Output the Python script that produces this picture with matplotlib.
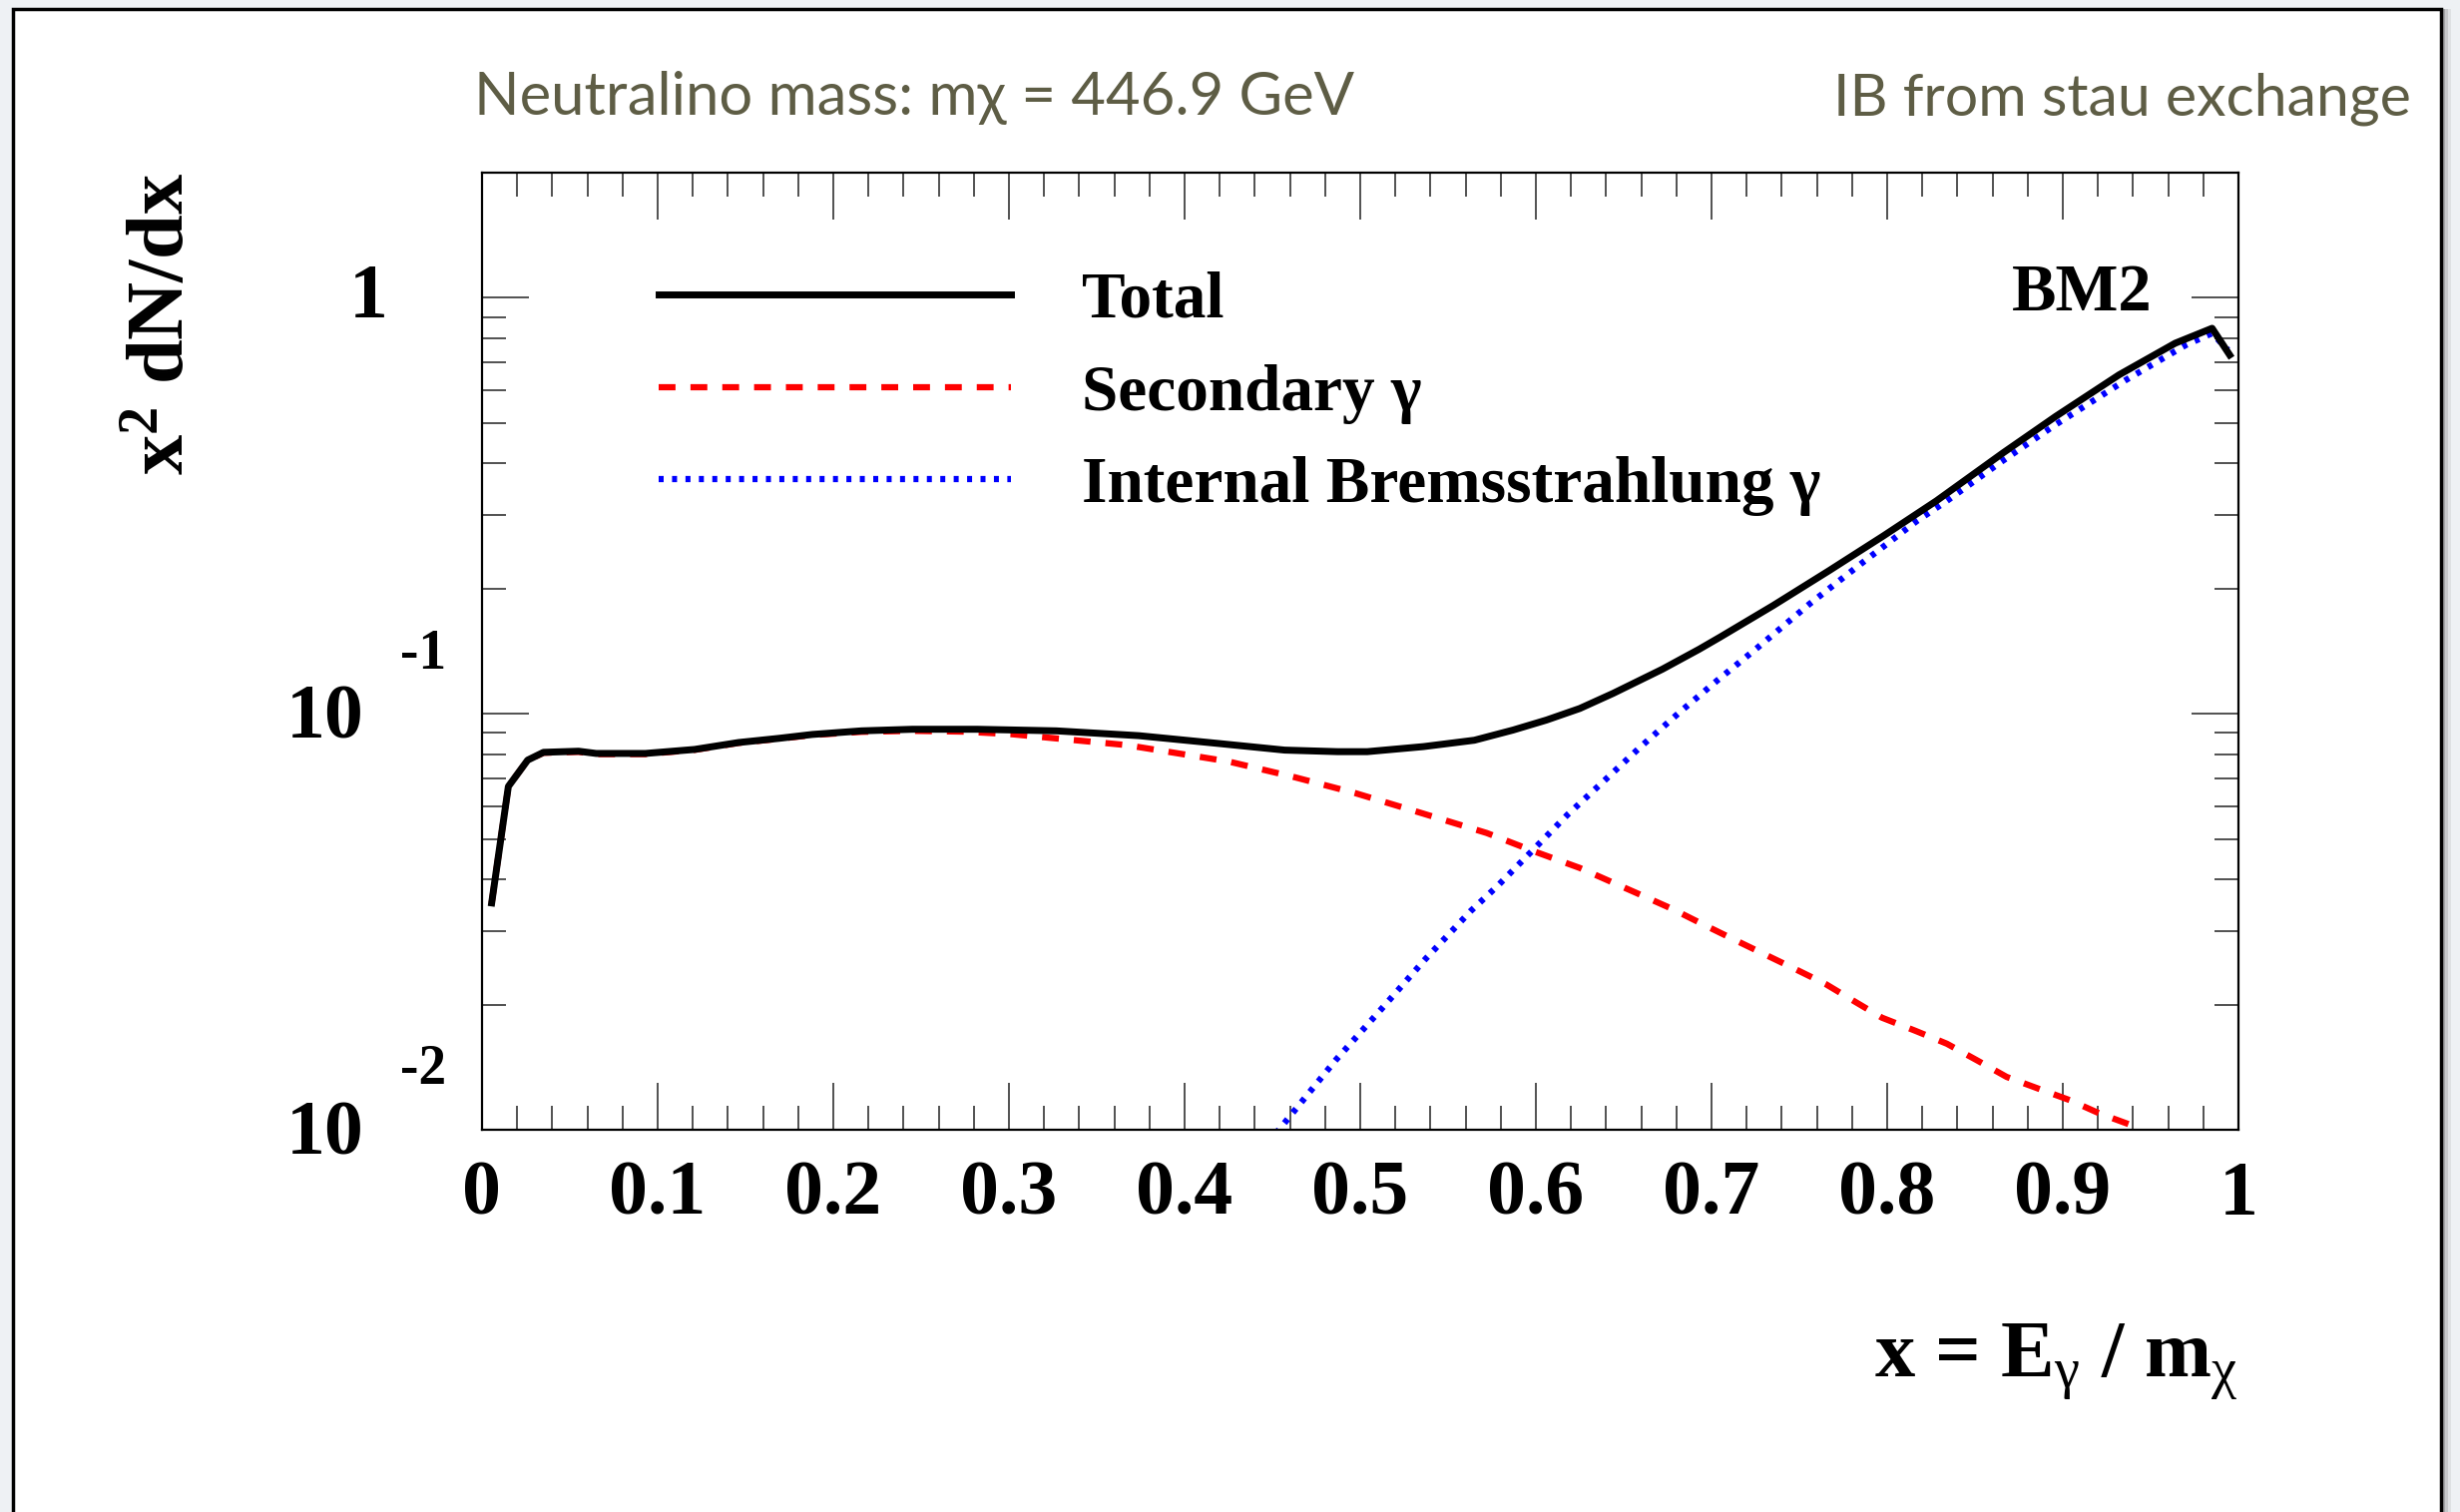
import numpy as np
import matplotlib
matplotlib.use("Agg")
import matplotlib.pyplot as plt
from matplotlib.patches import Rectangle
from matplotlib.ticker import MultipleLocator, LogLocator, NullFormatter

plt.rcParams['mathtext.fontset'] = 'custom'
plt.rcParams['mathtext.rm'] = 'Liberation Serif'
plt.rcParams['mathtext.bf'] = 'Liberation Serif:bold'
plt.rcParams['mathtext.default'] = 'rm'

# data: x = E_gamma / m_chi, y = x^2 dN/dx
x_total = [0.0055, 0.015, 0.026, 0.035, 0.055, 0.065, 0.093, 0.121, 0.146, 0.169,
           0.188, 0.216, 0.245, 0.282, 0.327, 0.374, 0.420, 0.457, 0.487, 0.504,
           0.536, 0.565, 0.587, 0.606, 0.625, 0.644, 0.672, 0.693, 0.705, 0.735,
           0.767, 0.798, 0.828, 0.866, 0.896, 0.932, 0.964, 0.985, 0.995]
y_total = [0.0351, 0.0669, 0.0774, 0.0808, 0.0813, 0.0803, 0.0803, 0.0821, 0.0853, 0.0873,
           0.0892, 0.0910, 0.0918, 0.0918, 0.0910, 0.0886, 0.0848, 0.0818, 0.0811, 0.0811,
           0.0834, 0.0864, 0.0914, 0.0966, 0.103, 0.112, 0.128, 0.143, 0.153, 0.182,
           0.221, 0.268, 0.325, 0.424, 0.519, 0.653, 0.778, 0.845, 0.729]

x_sec = [0.0055, 0.015, 0.026, 0.035, 0.055, 0.065, 0.093, 0.121, 0.146, 0.169,
         0.188, 0.216, 0.245, 0.275, 0.302, 0.367, 0.425, 0.461, 0.497, 0.535,
         0.572, 0.599, 0.625, 0.642, 0.661, 0.678, 0.695, 0.714, 0.748, 0.765,
         0.781, 0.797, 0.816, 0.834, 0.851, 0.868, 0.886, 0.904, 0.921, 0.939, 0.955]
y_sec = [0.0351, 0.0669, 0.0774, 0.0806, 0.0810, 0.0800, 0.0800, 0.0819, 0.0851, 0.0871,
         0.0889, 0.0905, 0.0910, 0.0906, 0.0893, 0.0841, 0.0768, 0.0707, 0.0645, 0.0577,
         0.0517, 0.0467, 0.0426, 0.0396, 0.0365, 0.0339, 0.0312, 0.0285, 0.0243, 0.0224,
         0.0204, 0.0186, 0.0173, 0.0161, 0.0147, 0.0134, 0.01256, 0.01178, 0.01094, 0.01026, 0.0093]

x_ib = [0.452, 0.486, 0.512, 0.537, 0.563, 0.578, 0.598, 0.618, 0.639, 0.660,
        0.682, 0.704, 0.726, 0.756, 0.786, 0.817, 0.834, 0.864, 0.896, 0.936,
        0.970, 0.985, 0.994]
y_ib = [0.0098, 0.0147, 0.0195, 0.0257, 0.0336, 0.0385, 0.0469, 0.0572, 0.0691, 0.0836,
        0.101, 0.121, 0.144, 0.184, 0.231, 0.291, 0.325, 0.401, 0.496, 0.635,
        0.770, 0.822, 0.750]

labels = ['Total', 'Secondary γ', 'Internal Bremsstrahlung γ']
x_ticks = [0, 0.1, 0.2, 0.3, 0.4, 0.5, 0.6, 0.7, 0.8, 0.9, 1]
x_ticklabels = ['0', '0.1', '0.2', '0.3', '0.4', '0.5', '0.6', '0.7', '0.8', '0.9', '1']
y_ticks = [0.01, 0.1, 1]
y_base = ['10', '10', '1']
y_exp = ['-2', '-1', '']

W, H = 2465, 1515
fig = plt.figure(figsize=(W / 100, H / 100), dpi=100, facecolor='#eef1f4')

# slide frame with a bit of shadow, kept behind the axes
for off, a in [(10, 0.10), (7, 0.18), (4, 0.30)]:
    fig.add_artist(Rectangle((13 / W, -0.1), (2433 + off) / W, 1.1 - 9 / H,
                             transform=fig.transFigure, facecolor='#555555',
                             edgecolor='none', alpha=a, zorder=-3))
fig.add_artist(Rectangle((13 / W, -0.1), 2433 / W, 1.1 - 9 / H,
                         transform=fig.transFigure, facecolor='white',
                         edgecolor='black', lw=2.5, zorder=-2))

serif = 'Liberation Serif'
ax = fig.add_axes([483 / W, 1 - 1132 / H, 1760 / W, 959 / H])
ax.set_yscale('log')
ax.set_xlim(0, 1)
ax.set_ylim(0.01, 2.0)

ax.plot(x_total, y_total, color='black', lw=5.0, solid_joinstyle='round',
        label=labels[0], zorder=4)
ax.plot(x_sec, y_sec, color='#ff0000', lw=4.5, dashes=(2.7, 2.4), dash_capstyle='butt',
        label=labels[1], zorder=3)
ax.plot(x_ib, y_ib, color='#0000ff', lw=4.5, dashes=(0.8, 1.35), dash_capstyle='butt',
        label=labels[2], zorder=3)

for s in ax.spines.values():
    s.set_linewidth(1.6)
    s.set_zorder(5)

ax.xaxis.set_major_locator(MultipleLocator(0.1))
ax.xaxis.set_minor_locator(MultipleLocator(0.02))
ax.set_yticks(y_ticks)
ax.yaxis.set_minor_locator(LogLocator(base=10, subs=np.arange(2, 10)))
ax.yaxis.set_minor_formatter(NullFormatter())
ax.set_yticklabels([])
ax.tick_params(which='both', direction='in', top=True, right=True, color='#222222')
ax.tick_params(which='major', length=34, width=1.1)
ax.tick_params(which='minor', length=17, width=1.1)
ax.tick_params(axis='x', pad=22)
ax.set_xticks(x_ticks)
ax.set_xticklabels(x_ticklabels, fontfamily=serif, fontweight='bold', fontsize=56)

# ROOT-style y labels: base and exponent placed separately
for yv, b, e in zip(y_ticks, y_base, y_exp):
    dx, dy = (-85, -4) if e else (-68, -1)
    ax.annotate(b, xy=(0, yv), xycoords=ax.get_yaxis_transform(), xytext=(dx, dy),
                textcoords='offset points', ha='right', va='center',
                fontfamily=serif, fontweight='bold', fontsize=56)
    if e:
        ax.annotate(e, xy=(0, yv), xycoords=ax.get_yaxis_transform(), xytext=(-59, 43),
                    textcoords='offset points', ha='left', va='center',
                    fontfamily=serif, fontweight='bold', fontsize=40)

leg = ax.legend(loc='center left', bbox_to_anchor=(0.1006, 0.769), frameon=False,
                borderpad=0, borderaxespad=0, handlelength=5.4, handletextpad=1.1,
                labelspacing=0.5, prop={'family': serif, 'weight': 'bold', 'size': 47})

ax.text(0.911, 0.856, 'BM2', transform=ax.transAxes, ha='center', va='baseline',
        fontfamily=serif, fontweight='bold', fontsize=48)

fig.text(2243 / W, 1 - 1380 / H, r'x = E$_{γ}$ / m$_{χ}$', ha='right', va='baseline',
         fontfamily=serif, fontweight='bold', fontsize=58)
fig.text(165 / W, 1 - 173 / H, r'x$^{\mathbf{2}}$ dN/dx', rotation=90, ha='center', va='top',
         fontfamily=serif, fontweight='bold', fontsize=58)

olive = '#5e5d45'
fig.text(475 / W, 1 - 115 / H, 'Neutralino mass: mχ = 446.9 GeV', ha='left', va='baseline',
         family=['Lato', 'DejaVu Sans'], fontsize=43, color=olive)
fig.text(2416 / W, 1 - 115 / H, 'IB from stau exchange', ha='right', va='baseline',
         family=['Lato', 'DejaVu Sans'], fontsize=42.5, color=olive)

fig.savefig('out.png', dpi=100, facecolor=fig.get_facecolor())
